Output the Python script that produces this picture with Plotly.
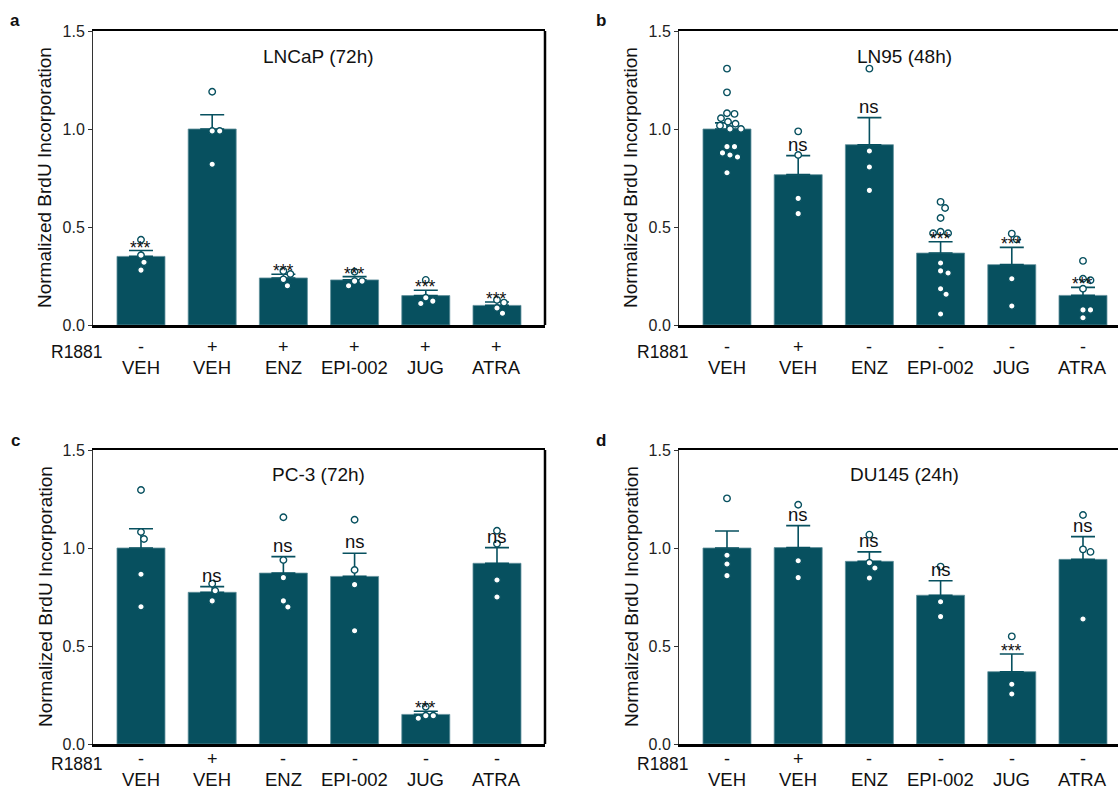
import math
import plotly.graph_objects as go

# ---------------- data ----------------
categories = ["VEH", "VEH", "ENZ", "EPI-002", "JUG", "ATRA"]
r1881_a = ["-", "+", "+", "+", "+", "+"]
r1881_bcd = ["-", "+", "-", "-", "-", "-"]
y_ticks = [0.0, 0.5, 1.0, 1.5]
y_ticktext = ["0.0", "0.5", "1.0", "1.5"]

a_title = "LNCaP (72h)"
a_mean = [0.35, 1.00, 0.24, 0.23, 0.15, 0.10]
a_sem = [0.03, 0.073, 0.019, 0.017, 0.027, 0.017]
a_pts = [[0.435, 0.356, 0.32, 0.28], [1.19, 0.99, 0.99, 0.82],
         [0.276, 0.26, 0.233, 0.20], [0.272, 0.224, 0.224, 0.20],
         [0.23, 0.139, 0.122, 0.11], [0.128, 0.114, 0.087, 0.06]]
a_sig = ["***", "", "***", "***", "***", "***"]

b_title = "LN95 (48h)"
b_mean = [1.00, 0.767, 0.92, 0.367, 0.308, 0.151]
b_sem = [0.031, 0.097, 0.138, 0.058, 0.088, 0.041]
b_pts = [[1.308, 1.187, 1.08, 1.077, 1.055, 1.037, 1.027, 1.017, 1.0, 1.0,
          0.91, 0.91, 0.878, 0.867, 0.857, 0.777],
         [0.988, 0.867, 0.646, 0.568],
         [1.308, 0.888, 0.806, 0.687],
         [0.628, 0.597, 0.546, 0.476, 0.468, 0.468, 0.316, 0.276, 0.265,
          0.185, 0.157, 0.056],
         [0.466, 0.437, 0.236, 0.097],
         [0.327, 0.236, 0.228, 0.185, 0.077, 0.077, 0.037]]
b_sig = ["", "ns", "ns", "***", "***", "***"]

c_title = "PC-3 (72h)"
c_mean = [1.0, 0.774, 0.872, 0.855, 0.151, 0.922]
c_sem = [0.098, 0.029, 0.084, 0.118, 0.016, 0.08]
c_pts = [[1.296, 1.082, 1.046, 0.866, 0.70], [0.818, 0.782, 0.73],
         [1.157, 0.939, 0.849, 0.73, 0.699], [1.144, 0.888, 0.813, 0.578],
         [0.19, 0.144, 0.144, 0.131], [1.088, 1.022, 0.837, 0.75]]
c_sig = ["", "ns", "ns", "ns", "***", "ns"]

d_title = "DU145 (24h)"
d_mean = [1.0, 1.002, 0.932, 0.759, 0.369, 0.942]
d_sem = [0.087, 0.112, 0.048, 0.074, 0.09, 0.116]
d_pts = [[1.253, 0.963, 0.918, 0.859], [1.221, 0.935, 0.849],
         [1.068, 0.925, 0.898, 0.847], [0.905, 0.726, 0.65],
         [0.549, 0.305, 0.255], [1.168, 0.993, 0.98, 0.638]]
d_sig = ["", "ns", "ns", "ns", "***", "ns"]

# ---------------- style / layout ----------------
W, H = 1118, 792
TEAL = "#07505f"
FONT = "Liberation Sans, Arial, sans-serif"
UNIT_PX = 71.2      # px per category
BAR_W = 0.674
X0 = -0.674
YPX = 196.0         # px per y unit


def PX(sx):
    return sx / W


def PY(sy):
    return 1 - sy / H


panels = [
    dict(letter="a", title=a_title, mean=a_mean, sem=a_sem, pts=a_pts, sig=a_sig,
         r=r1881_a, left=93, right=545, top=31, bottom=325, frame=True,
         sign_dy=22, name_dy=42, r_dy=27),
    dict(letter="b", title=b_title, mean=b_mean, sem=b_sem, pts=b_pts, sig=b_sig,
         r=r1881_bcd, left=679, right=1118, top=31, bottom=325, frame=False,
         sign_dy=22, name_dy=42, r_dy=27),
    dict(letter="c", title=c_title, mean=c_mean, sem=c_sem, pts=c_pts, sig=c_sig,
         r=r1881_bcd, left=93, right=545, top=450, bottom=744, frame=True,
         sign_dy=15, name_dy=35, r_dy=20),
    dict(letter="d", title=d_title, mean=d_mean, sem=d_sem, pts=d_pts, sig=d_sig,
         r=r1881_bcd, left=679, right=1118, top=450, bottom=744, frame=False,
         sign_dy=15, name_dy=35, r_dy=20),
]


def swarm(values, diam=7.5):
    placed = []
    offs = []
    for v in values:
        y = v * YPX
        best = 0.0
        for k in range(0, 80):
            found = False
            for s in ([0.0] if k == 0 else [k * 0.5, -k * 0.5]):
                if all(math.hypot(s - px, y - py) >= diam for px, py in placed):
                    best = s
                    found = True
                    break
            if found:
                break
        placed.append((best, y))
        offs.append(best / UNIT_PX)
    return offs


fig = go.Figure()
annotations = []
shapes = []
layout_axes = {}

for i, p in enumerate(panels):
    n = "" if i == 0 else str(i + 1)
    xa, ya = "x" + n, "y" + n
    xs = list(range(len(categories)))
    fig.add_trace(go.Bar(
        x=xs, y=p["mean"], width=BAR_W, xaxis=xa, yaxis=ya,
        marker=dict(color=TEAL, line=dict(color="#5f8f9b", width=0.8)),
        error_y=dict(type="data", array=p["sem"], arrayminus=[0] * len(xs),
                     symmetric=False, color=TEAL, thickness=1.6, width=12),
        showlegend=False, hoverinfo="skip"))
    px_, py_ = [], []
    for j, vals in enumerate(p["pts"]):
        for o, v in zip(swarm(vals), vals):
            px_.append(j + o)
            py_.append(v)
    fig.add_trace(go.Scatter(
        x=px_, y=py_, mode="markers", xaxis=xa, yaxis=ya,
        marker=dict(size=6.5, color="white", line=dict(color=TEAL, width=1.4)),
        showlegend=False, hoverinfo="skip", cliponaxis=False))

    xr = [X0, X0 + (p["right"] - p["left"]) / UNIT_PX]
    dom_x = [PX(p["left"]), min(1.0, PX(p["right"]))]
    dom_y = [PY(p["bottom"]), PY(p["top"])]
    layout_axes["xaxis" + n] = dict(
        domain=dom_x, range=xr, anchor=ya, showgrid=False, zeroline=False,
        showticklabels=False, ticks="", showline=True, linecolor="black",
        linewidth=2.5, mirror=True, fixedrange=True, automargin=False)
    layout_axes["yaxis" + n] = dict(
        domain=dom_y, range=[0, 1.5], anchor=xa, showgrid=False, zeroline=False,
        tickvals=y_ticks, ticktext=y_ticktext, ticks="outside", ticklen=4,
        tickwidth=1, tickcolor="#333", showline=True, linecolor="#333",
        linewidth=1, tickfont=dict(family=FONT, size=16, color="#222"),
        fixedrange=True, automargin=False)
    if p["frame"]:
        shapes.append(dict(type="line", xref=xa + " domain", yref=ya + " domain",
                           x0=1, x1=1, y0=0, y1=1,
                           line=dict(color="black", width=2.5)))

    # panel title
    annotations.append(dict(text=p["title"], xref=xa, yref="paper", x=2.5,
                            y=PY(p["top"] + 25), showarrow=False,
                            xanchor="center", yanchor="middle",
                            font=dict(family=FONT, size=19, color="#111")))
    # panel letter
    annotations.append(dict(text="<b>%s</b>" % p["letter"], xref="paper", yref="paper",
                            x=PX(p["left"] - 78), y=PY(p["top"] - 10),
                            showarrow=False, xanchor="center", yanchor="middle",
                            font=dict(family=FONT, size=17, color="#111")))
    # y axis title
    annotations.append(dict(text="Normalized BrdU Incorporation", xref="paper",
                            yref="paper", x=PX(p["left"] - 48),
                            y=(dom_y[0] + dom_y[1]) / 2, textangle=-90,
                            showarrow=False, xanchor="center", yanchor="middle",
                            font=dict(family=FONT, size=19, color="#111")))
    # R1881 row label
    annotations.append(dict(text="R1881", xref="paper", yref="paper",
                            x=PX(p["left"] - 44), y=PY(p["bottom"] + p["r_dy"]),
                            xanchor="left", yanchor="middle", showarrow=False,
                            font=dict(family=FONT, size=17.5, color="#111")))
    for j, cat in enumerate(categories):
        annotations.append(dict(text=p["r"][j], xref=xa, yref="paper", x=j,
                                y=PY(p["bottom"] + p["sign_dy"]), showarrow=False,
                                xanchor="center", yanchor="middle",
                                font=dict(family=FONT, size=18, color="#111")))
        annotations.append(dict(text=cat, xref=xa, yref="paper", x=j,
                                y=PY(p["bottom"] + p["name_dy"]), showarrow=False,
                                xanchor="center", yanchor="middle",
                                font=dict(family=FONT, size=18.5, color="#111")))
        s = p["sig"][j]
        if s:
            top = p["mean"][j] + p["sem"][j]
            annotations.append(dict(text=s, xref=xa, yref=ya, x=j, y=top,
                                    showarrow=False, xanchor="center",
                                    yanchor="bottom",
                                    yshift=-9 if s == "***" else -1,
                                    font=dict(family=FONT,
                                              size=17.5 if s == "***" else 18.5,
                                              color="#111")))

fig.update_layout(
    width=W, height=H, margin=dict(l=0, r=0, t=0, b=0, pad=0),
    paper_bgcolor="white", plot_bgcolor="white",
    annotations=annotations, shapes=shapes, bargap=0,
    **layout_axes)

fig.write_html("out.html",
               config={"displayModeBar": False, "staticPlot": True},
               post_script="document.body.style.margin='0';"
                           "document.body.style.overflow='hidden';")
